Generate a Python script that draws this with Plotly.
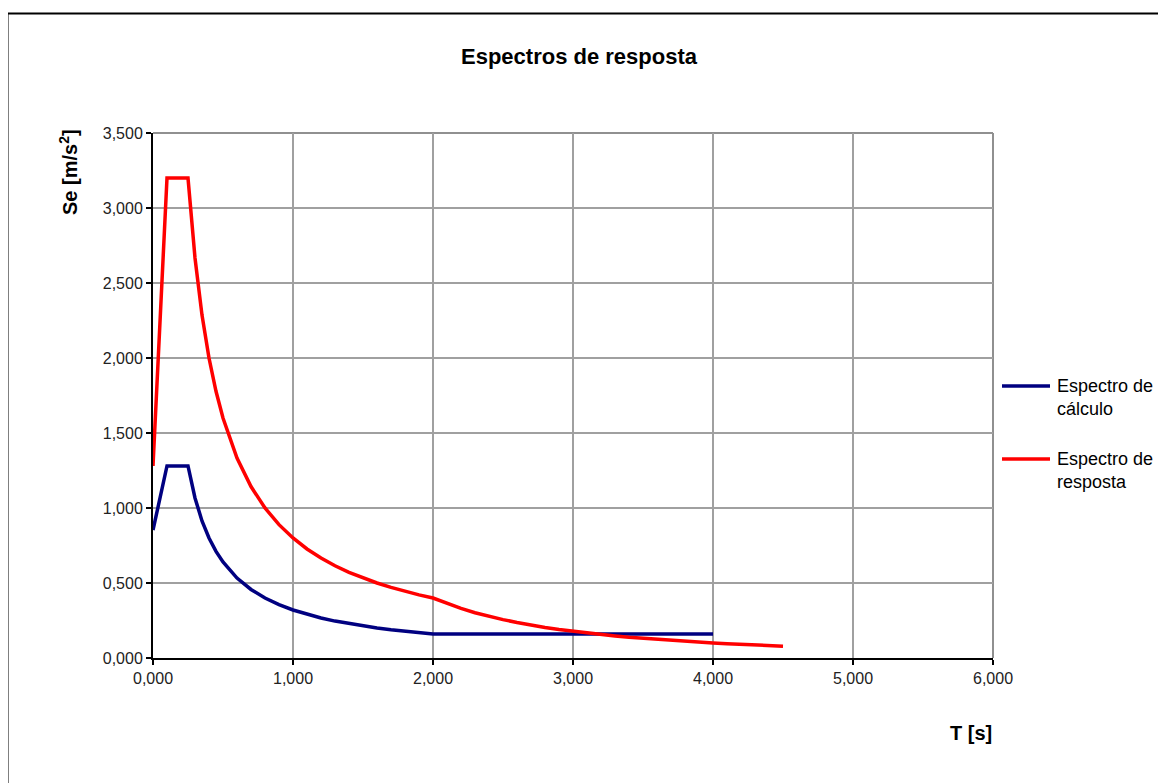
import plotly.graph_objects as go

# Period values T [s]
t_resp = [0.0, 0.1, 0.25, 0.3, 0.35, 0.4, 0.45, 0.5, 0.6, 0.7, 0.8, 0.9, 1.0,
          1.1, 1.2, 1.3, 1.4, 1.5, 1.6, 1.7, 1.8, 1.9, 2.0, 2.1, 2.2, 2.3, 2.4,
          2.5, 2.6, 2.7, 2.8, 2.9, 3.0, 3.1, 3.2, 3.3, 3.4, 3.5, 3.6, 3.7, 3.8,
          3.9, 4.0, 4.1, 4.2, 4.3, 4.4, 4.5]
se_resp = [1.28, 3.2, 3.2, 2.667, 2.286, 2.0, 1.778, 1.6, 1.333, 1.143, 1.0, 0.889, 0.8,
           0.727, 0.667, 0.615, 0.571, 0.533, 0.5, 0.471, 0.444, 0.421, 0.4, 0.363, 0.331, 0.302, 0.278,
           0.256, 0.237, 0.219, 0.204, 0.190, 0.178, 0.166, 0.156, 0.147, 0.138, 0.131, 0.123, 0.117, 0.111,
           0.105, 0.1, 0.095, 0.091, 0.087, 0.083, 0.079]

t_calc = [0.0, 0.1, 0.25, 0.3, 0.35, 0.4, 0.45, 0.5, 0.6, 0.7, 0.8, 0.9, 1.0,
          1.1, 1.2, 1.3, 1.4, 1.5, 1.6, 1.7, 1.8, 1.9, 2.0, 2.5, 3.0, 3.5, 4.0]
se_calc = [0.853, 1.28, 1.28, 1.067, 0.914, 0.8, 0.711, 0.64, 0.533, 0.457, 0.4, 0.356, 0.32,
           0.291, 0.267, 0.246, 0.229, 0.213, 0.2, 0.188, 0.178, 0.168, 0.16, 0.16, 0.16, 0.16, 0.16]

series_names = ["Espectro de<br>cálculo", "Espectro de<br>resposta"]
series_colors = ["#000080", "#FF0000"]

x_ticks = [0, 1, 2, 3, 4, 5, 6]
y_ticks = [0, 0.5, 1.0, 1.5, 2.0, 2.5, 3.0, 3.5]

FONT = "Liberation Sans, Arial, sans-serif"

# page offset (browser body margin)
OFF = 8
FW, FH = 1166 - OFF, 783 - OFF
# plot-area geometry in page pixels
L, R, T, B = 153, 993, 133, 658
W, H = R - L, B - T
px = lambda p: (p - L) / W
py = lambda p: (B - p) / H

fig = go.Figure()
fig.add_trace(go.Scatter(x=t_calc, y=se_calc, mode="lines", name=series_names[0],
                         line=dict(color=series_colors[0], width=3.5)))
fig.add_trace(go.Scatter(x=t_resp, y=se_resp, mode="lines", name=series_names[1],
                         line=dict(color=series_colors[1], width=3.5)))

fig.update_layout(
    width=FW, height=FH,
    margin=dict(l=L - OFF, r=(FW + OFF) - R, t=T - OFF, b=(FH + OFF) - B, pad=0),
    paper_bgcolor="white", plot_bgcolor="white",
    separators=",.",
    font=dict(family=FONT, color="#000000"),
    showlegend=False,
    xaxis=dict(range=[0, 6], tickvals=x_ticks, tickformat=".3f",
               showgrid=True, gridcolor="#A0A0A0", gridwidth=1.5,
               showline=True, linecolor="#000000", linewidth=2,
               ticks="outside", ticklen=5, tickcolor="#000000", tickwidth=1.5,
               tickfont=dict(size=16, family=FONT, color="#222222"),
               zeroline=False, fixedrange=True),
    yaxis=dict(range=[0, 3.5], tickvals=y_ticks, tickformat=".3f",
               showgrid=True, gridcolor="#A0A0A0", gridwidth=1.5,
               showline=True, linecolor="#000000", linewidth=2,
               ticks="outside", ticklen=5, tickcolor="#000000", tickwidth=1.5,
               tickfont=dict(size=16, family=FONT, color="#222222"),
               zeroline=False, fixedrange=True),
)

# gray plot-area border on top and right
fig.add_shape(type="line", xref="paper", yref="paper", x0=0, x1=1, y0=1, y1=1,
              line=dict(color="#909090", width=2), layer="below")
fig.add_shape(type="line", xref="paper", yref="paper", x0=1, x1=1, y0=0, y1=1,
              line=dict(color="#909090", width=2), layer="below")

# outer chart border (top and left)
fig.add_shape(type="line", xref="paper", yref="paper", x0=px(7.5), x1=px(1166), y0=py(13.5), y1=py(13.5),
              line=dict(color="#000000", width=2))
fig.add_shape(type="line", xref="paper", yref="paper", x0=px(7.5), x1=px(7.5), y0=py(13.5), y1=py(790),
              line=dict(color="#000000", width=2))

# manual legend
leg_y = [386, 459]
for name, col, yy in zip(series_names, series_colors, leg_y):
    fig.add_shape(type="line", xref="paper", yref="paper", x0=px(1002), x1=px(1050),
                  y0=py(yy), y1=py(yy), line=dict(color=col, width=3.5))
    fig.add_annotation(text=name, xref="paper", yref="paper", x=px(1055), y=py(yy - 12),
                       xanchor="left", yanchor="top", align="left", showarrow=False,
                       font=dict(size=18, family=FONT, color="#000000"))

fig.add_annotation(text="<b>Espectros de resposta</b>", xref="paper", yref="paper",
                   x=px(579), y=py(57), xanchor="center", yanchor="middle", showarrow=False,
                   font=dict(size=22, family=FONT))
fig.add_annotation(text="<b>Se [m/s<sup>2</sup>]</b>", xref="paper", yref="paper",
                   x=px(68), y=py(172), xanchor="center", yanchor="middle", showarrow=False,
                   textangle=-90, font=dict(size=20, family=FONT))
fig.add_annotation(text="<b>T [s]</b>", xref="paper", yref="paper",
                   x=px(971), y=py(733), xanchor="center", yanchor="middle", showarrow=False,
                   font=dict(size=20, family=FONT))

fig.write_html("out.html")
